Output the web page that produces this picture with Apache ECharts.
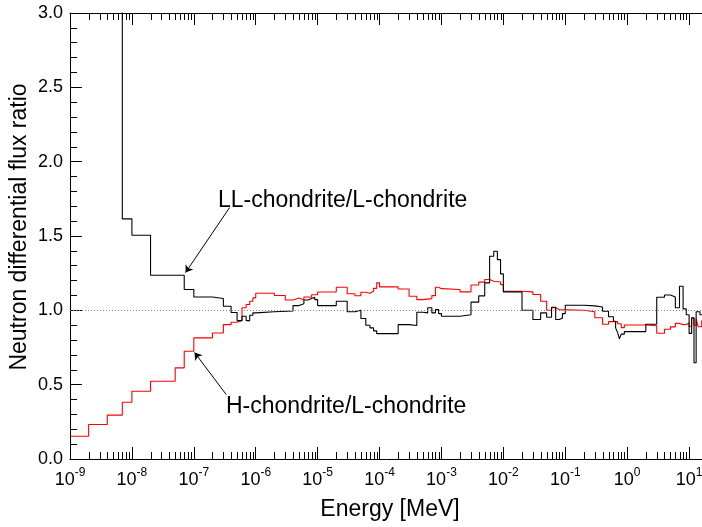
<!DOCTYPE html>
<html>
<head>
<meta charset="utf-8">
<script src="https://cdn.jsdelivr.net/npm/echarts@6/dist/echarts.min.js"></script>
<style>html,body{margin:0;padding:0;background:#fff;}#c{width:702px;height:527px;}</style>
</head>
<body>
<div id="c"></div>
<script>
// Bin edges (MeV) and ratio values for each bin (one fewer value than edges)
const llEdges = [1e-9,2e-9,4e-9,7e-9,1e-8,2e-8,7e-8,1e-7,2e-7,3e-7,4e-7,5e-7,6e-7,7e-7,8e-7,9e-7,
  1e-6,2e-6,4e-6,5e-6,6e-6,7e-6,8e-6,9e-6,1e-5,2e-5,3e-5,4e-5,5e-5,6e-5,7e-5,8e-5,9e-5,
  2e-4,3e-4,4e-4,5e-4,6e-4,7e-4,8e-4,9e-4,1e-3,2e-3,3e-3,4e-3,5e-3,6e-3,7e-3,8e-3,9e-3,
  1e-2,2e-2,3e-2,4e-2,5e-2,6e-2,7e-2,8e-2,9e-2,0.1,0.2,0.3,0.4,0.5,0.6,0.65,0.7,0.75,0.8,0.9,
  2,3,4,5,6,7,8,9,10,11,12,13,15,20];
const llValues = [8,6,4,1.615,1.505,1.236,1.14,1.09,1.08,1.027,0.985,0.931,0.96,0.931,0.967,0.983,
  0.99,0.996,1.032,1.045,1.07,1.08,1.088,1.072,1.032,1.061,0.99,1.0,0.945,0.90,0.882,0.862,0.843,
  0.904,0.898,0.987,0.983,1.017,0.983,1.005,0.978,0.96,0.97,1.055,1.097,1.185,1.364,1.397,1.341,1.245,
  1.124,1.001,0.938,0.983,0.953,1.021,0.938,0.949,0.978,1.034,1.03,1.022,0.994,0.957,0.927,0.882,0.85,0.808,0.84,0.857,
  0.906,1.088,1.103,1.09,1.017,1.162,1.01,0.97,0.845,0.95,0.647,0.99,0.97];

const hEdges = [1e-9,2e-9,4e-9,7e-9,1e-8,2e-8,5e-8,7e-8,1e-7,2e-7,3e-7,4e-7,5e-7,6e-7,7e-7,8e-7,9e-7,
  1e-6,2e-6,3e-6,4e-6,5e-6,6e-6,7e-6,8e-6,1e-5,2e-5,3e-5,4e-5,5e-5,6e-5,7e-5,8e-5,9e-5,
  1e-4,2e-4,3e-4,4e-4,5e-4,7e-4,8e-4,9e-4,1e-3,2e-3,3e-3,4e-3,5e-3,6e-3,7e-3,9e-3,
  1e-2,2e-2,3e-2,4e-2,5e-2,6e-2,7e-2,8e-2,0.2,0.3,0.4,0.5,0.6,0.7,0.8,0.9,
  2,3,4,5,6,7,8,9,10,11,12,13,14,16,20];
const hValues = [0.153,0.232,0.295,0.382,0.456,0.523,0.613,0.725,0.815,0.848,0.904,0.92,0.931,1.017,1.039,1.061,1.084,
  1.115,1.1,1.07,1.083,1.07,1.09,1.088,1.105,1.123,1.155,1.112,1.098,1.122,1.115,1.128,1.148,1.185,
  1.158,1.144,1.095,1.072,1.079,1.099,1.155,1.146,1.14,1.124,1.17,1.19,1.207,1.196,1.191,1.173,
  1.128,1.124,1.106,1.061,1.001,1.017,1.005,1.001,0.99,0.95,0.906,0.924,0.925,0.91,0.884,0.901,
  0.896,0.846,0.873,0.889,0.912,0.904,0.905,0.915,0.891,0.946,0.90,0.943,0.89,0.93];

const xMin = 1e-9, xMax = 1e2;
const yMin = 0, yMax = 3, yInterval = 0.5;
const referenceLevel = 1.0;

const labelLL = 'LL-chondrite/L-chondrite';
const labelH = 'H-chondrite/L-chondrite';
const xTitle = 'Energy [MeV]';
const yTitle = 'Neutron differential flux ratio';
// annotation arrows: [tail, tip] in data coordinates
const arrowLL = [[3.78e-7, 1.691], [7.35e-8, 1.254]];
const arrowH = [[3.33e-7, 0.434], [1.03e-7, 0.716]];

function stepData(edges, vals) {
  return edges.map((e, i) => [e, vals[Math.min(i, vals.length - 1)]]);
}
// log minor tick positions 2..9 x 10^n
const minorTickVals = [];
for (let n = -9; n <= 1; n++) for (let k = 2; k <= 9; k++) minorTickVals.push(k * Math.pow(10, n));

const FONT = 'Liberation Sans';
const chart = echarts.init(document.getElementById('c'), null, {renderer: 'canvas'});

const logAxisCommon = {
  type: 'log', logBase: 10, min: xMin, max: xMax, interval: 1, splitNumber: 11,
  axisLine: {show: true, lineStyle: {color: '#000', width: 1}},
  axisTick: {show: true, inside: true, length: 12, interval: 0, lineStyle: {color: '#000', width: 1}},
  splitLine: {show: false}
};

chart.setOption({
  animation: false,
  backgroundColor: '#fff',
  textStyle: {fontFamily: FONT},
  grid: {left: 70, width: 681, top: 13, height: 446, containLabel: false, outerBoundsMode: 'none'},
  xAxis: [
    Object.assign({}, logAxisCommon, {
      position: 'bottom',
      axisLabel: {
        show: true, interval: 0, margin: 8, color: '#000', fontFamily: FONT, hideOverlap: false,
        formatter: function (v) {
          const e = Math.round(Math.log10(v));
          return '{b|10}{s|' + e + '}';
        },
        rich: {
          b: {fontSize: 18, fontFamily: FONT, color: '#000', lineHeight: 22, verticalAlign: 'bottom'},
          s: {fontSize: 12, fontFamily: FONT, color: '#000', lineHeight: 12, verticalAlign: 'top'}
        }
      }
    }),
    Object.assign({}, logAxisCommon, {position: 'top', axisLabel: {show: false}})
  ],
  yAxis: {
    type: 'value', min: yMin, max: yMax, interval: yInterval,
    axisLine: {show: true, lineStyle: {color: '#000', width: 1}},
    axisTick: {show: true, inside: true, length: 12, lineStyle: {color: '#000'}},
    minorTick: {show: true, splitNumber: 5, length: 7, lineStyle: {color: '#000'}},
    splitLine: {show: false},
    axisLabel: {color: '#000', fontSize: 18, fontFamily: FONT, margin: 7,
      formatter: v => v.toFixed(1)}
  },
  graphic: [
    {type: 'text', left: 218, top: 189, style: {text: labelLL, font: '23px "Liberation Sans"', fill: '#000'}},
    {type: 'text', left: 226, top: 395, style: {text: labelH, font: '23px "Liberation Sans"', fill: '#000'}},
    {type: 'text', x: 390, y: 510, style: {text: xTitle, font: '23px "Liberation Sans"', fill: '#000', align: 'center', verticalAlign: 'middle'}},
    {type: 'text', x: 20, y: 227, rotation: Math.PI / 2, style: {text: yTitle, font: '23px "Liberation Sans"', fill: '#000', align: 'center', verticalAlign: 'middle'}}
  ],
  series: [
    {
      type: 'line', name: 'ref', data: [], z: 1, silent: true,
      markLine: {silent: true, symbol: ['none', 'none'], label: {show: false},
        lineStyle: {type: [1, 2], color: '#888', width: 1},
        data: [{yAxis: referenceLevel}]}
    },
    {
      type: 'line', name: 'H', step: 'end', data: stepData(hEdges, hValues), z: 3,
      showSymbol: false, symbol: 'none', clip: true,
      lineStyle: {color: '#ff0000', width: 1.1}
    },
    {
      type: 'line', name: 'LL', step: 'end', data: stepData(llEdges, llValues), z: 4,
      showSymbol: false, symbol: 'none', clip: true,
      lineStyle: {color: '#000', width: 1.1},
      markLine: {silent: true, symbol: ['none', 'arrow'], symbolSize: 7, label: {show: false},
        lineStyle: {type: 'solid', color: '#000', width: 1},
        data: [
          [{coord: arrowLL[0]}, {coord: arrowLL[1]}],
          [{coord: arrowH[0]}, {coord: arrowH[1]}]
        ]}
    },
    {
      type: 'custom', name: 'minorTicks', silent: true, z: 5,
      data: minorTickVals.map(v => [v]),
      renderItem: function (params, api) {
        const v = api.value(0);
        const pb = api.coord([v, yMin]);
        const pt = api.coord([v, yMax]);
        const x = Math.round(pb[0]) + 0.5;
        return {type: 'group', children: [
          {type: 'line', shape: {x1: x, y1: pb[1], x2: x, y2: pb[1] - 7}, style: {stroke: '#000', lineWidth: 1}},
          {type: 'line', shape: {x1: x, y1: pt[1], x2: x, y2: pt[1] + 7}, style: {stroke: '#000', lineWidth: 1}}
        ]};
      }
    }
  ]
});
</script>
</body>
</html>
